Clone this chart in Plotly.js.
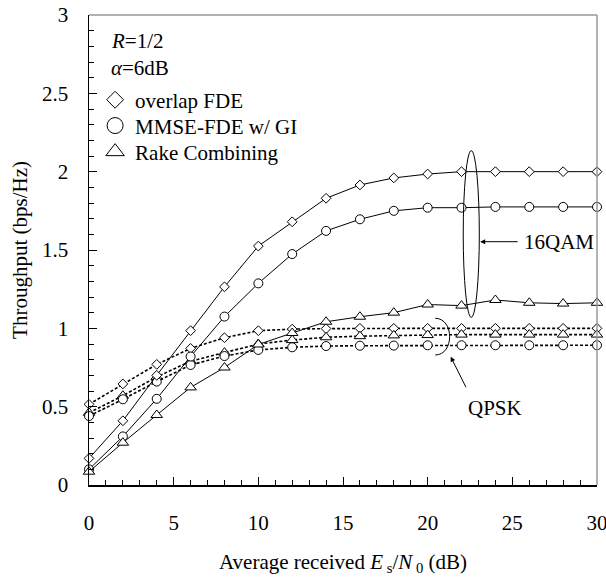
<!DOCTYPE html>
<html>
<head>
<meta charset="utf-8">
<script src="https://cdn.plot.ly/plotly-3.0.1.min.js"></script>
<style>html,body{margin:0;padding:0;background:#fff;}#chart{width:606px;height:586px;}</style>
</head>
<body>
<div id="chart"></div>
<script>
// Average received Es/N0 (dB)
const snr = [0, 2, 4, 6, 8, 10, 12, 14, 16, 18, 20, 22, 24, 26, 28, 30];
// 16QAM throughput (bps/Hz)
const ofde16 = [0.17, 0.41, 0.70, 0.985, 1.265, 1.525, 1.68, 1.83, 1.915, 1.96, 1.985, 2.0, 2.0, 2.0, 2.0, 2.0];
const mmse16 = [0.10, 0.31, 0.55, 0.82, 1.075, 1.287, 1.474, 1.622, 1.696, 1.75, 1.77, 1.77, 1.775, 1.775, 1.775, 1.775];
const rake16 = [0.085, 0.27, 0.447, 0.623, 0.75, 0.897, 0.97, 1.042, 1.074, 1.10, 1.152, 1.145, 1.181, 1.163, 1.158, 1.163];
// QPSK throughput (bps/Hz)
const ofdeQ = [0.515, 0.645, 0.77, 0.872, 0.94, 0.985, 0.995, 0.998, 1.0, 1.0, 1.0, 1.0, 1.0, 1.0, 1.0, 1.0];
const mmseQ = [0.44, 0.547, 0.66, 0.766, 0.823, 0.862, 0.879, 0.887, 0.889, 0.89, 0.892, 0.892, 0.892, 0.892, 0.892, 0.892];
const rakeQ = [0.461, 0.57, 0.69, 0.79, 0.845, 0.90, 0.925, 0.943, 0.95, 0.955, 0.957, 0.96, 0.96, 0.96, 0.96, 0.96];
// legend labels
const legendNames = ['overlap FDE', 'MMSE-FDE w/ GI', 'Rake Combining'];
const symbols = ['diamond-open', 'circle-open', 'triangle-up-open'];

const FONT = '"Liberation Serif", "Times New Roman", serif';
const msize = {'diamond-open': 7.5, 'circle-open': 9, 'triangle-up-open': 10};
const lsize = {'diamond-open': 13, 'circle-open': 16, 'triangle-up-open': 16};

function series(y, sym, dotted) {
  return {
    x: snr, y: y, type: 'scatter', mode: 'lines+markers', showlegend: false,
    line: {color: '#000', width: dotted ? 1.6 : 1, dash: dotted ? '3px,2px' : 'solid'},
    marker: {symbol: sym.replace('-open',''), size: msize[sym], color: '#fff', line: {color: '#000', width: 1}},
    cliponaxis: false
  };
}
const traces = [
  series(ofdeQ, symbols[0], true),
  series(rakeQ, symbols[2], true),
  series(mmseQ, symbols[1], true),
  series(ofde16, symbols[0], false),
  series(mmse16, symbols[1], false),
  series(rake16, symbols[2], false)
];
const legendIds = ['legend', 'legend2', 'legend3'];
legendNames.forEach((n, i) => {
  traces.push({
    x: [null], y: [null], type: 'scatter', mode: 'markers', name: n, legend: legendIds[i],
    marker: {symbol: symbols[i], size: lsize[symbols[i]], color: '#000', line: {color: '#000', width: 1}}
  });
});
const legendY = [0.819, 0.764, 0.7085];
function legendBox(y) {
  return {x: 0.012, y: y, xanchor: 'left', yanchor: 'middle', bgcolor: 'rgba(0,0,0,0)',
          font: {family: FONT, size: 21, color: '#000'}, itemsizing: 'trace'};
}

const layout = {
  width: 606, height: 586,
  margin: {l: 89, r: 9, t: 15, b: 101},
  paper_bgcolor: '#fff', plot_bgcolor: '#fff',
  font: {family: FONT, size: 21, color: '#000'},
  showlegend: true,
  legend: legendBox(legendY[0]),
  legend2: legendBox(legendY[1]),
  legend3: legendBox(legendY[2]),
  xaxis: {
    range: [0, 30], dtick: 5, showgrid: false, zeroline: false,
    showline: true, linecolor: '#000', linewidth: 1.5,
    ticks: 'inside', ticklen: 8, tickwidth: 1, tickcolor: '#000',
    minor: {dtick: 1, ticks: 'inside', ticklen: 5, tickwidth: 1, tickcolor: '#000', showgrid: false},
    ticklabelstandoff: 18, ticklabeloverflow: 'allow',
    tickfont: {family: FONT, size: 21},
    title: {text: 'Average received <i>E</i><sub> s</sub>/<i>N</i><sub> 0</sub> (dB)', font: {family: FONT, size: 21}, standoff: 20}
  },
  yaxis: {
    range: [0, 3], dtick: 0.5, showgrid: false, zeroline: false,
    showline: true, linecolor: '#000', linewidth: 1.5,
    ticks: 'inside', ticklen: 8, tickwidth: 1, tickcolor: '#000',
    minor: {dtick: 0.1, ticks: 'inside', ticklen: 5, tickwidth: 1, tickcolor: '#000', showgrid: false},
    ticklabelstandoff: 15, ticklabeloverflow: 'allow',
    tickfont: {family: FONT, size: 21},
    title: {text: 'Throughput (bps/Hz)', font: {family: FONT, size: 21}, standoff: 8}
  },
  shapes: [
    {type: 'line', xref: 'paper', yref: 'paper', x0: 0, x1: 1, y0: 1, y1: 1, line: {color: '#999', width: 1.5}},
    {type: 'line', xref: 'paper', yref: 'paper', x0: 1, x1: 1, y0: 0, y1: 1, line: {color: '#999', width: 1.5}},
    {type: 'circle', xref: 'x', yref: 'y', x0: 22.1, x1: 23.05, y0: 1.07, y1: 2.134, line: {color: '#000', width: 1}},
    {type: 'path', xref: 'x', yref: 'y', path: 'M 20.45,1.064 C 21.58,1.064 21.58,0.83 20.45,0.83', line: {color: '#000', width: 1}}
  ],
  annotations: [
    {xref: 'paper', yref: 'paper', x: 0.04, y: 0.945, xanchor: 'left', yanchor: 'middle', showarrow: false,
     text: '<i>R</i>=1/2', font: {family: FONT, size: 21}},
    {xref: 'paper', yref: 'paper', x: 0.04, y: 0.888, xanchor: 'left', yanchor: 'middle', showarrow: false,
     text: '<i>α</i>=6dB', font: {family: FONT, size: 21}},
    {xref: 'x', yref: 'y', x: 23.1, y: 1.553, ax: 39, ay: 0, text: '', showarrow: true,
     arrowhead: 2, arrowsize: 1, arrowwidth: 1, arrowcolor: '#000'},
    {xref: 'x', yref: 'y', x: 27.74, y: 1.553, text: '16QAM', showarrow: false, font: {family: FONT, size: 21}},
    {xref: 'x', yref: 'y', x: 21.36, y: 0.819, ax: 16, ay: 32, text: '', showarrow: true,
     arrowhead: 2, arrowsize: 1, arrowwidth: 1, arrowcolor: '#000'},
    {xref: 'x', yref: 'y', x: 23.95, y: 0.49, text: 'QPSK', showarrow: false, font: {family: FONT, size: 21}}
  ]
};
Plotly.newPlot('chart', traces, layout, {displayModeBar: false, staticPlot: true});
</script>
</body>
</html>
